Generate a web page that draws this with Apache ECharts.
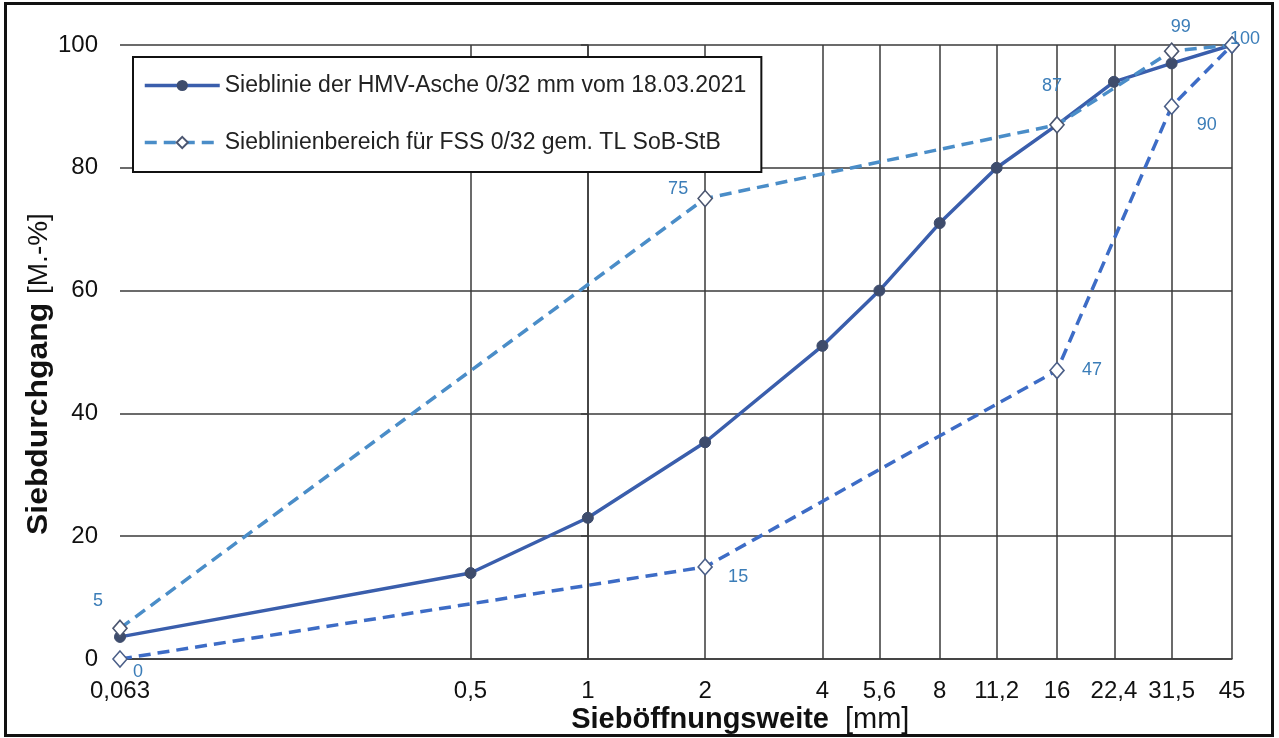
<!DOCTYPE html>
<html>
<head>
<meta charset="utf-8">
<script src="https://cdn.jsdelivr.net/npm/echarts@6/dist/echarts.min.js"></script>
<style>
html,body{margin:0;padding:0;background:#fff;}
#chart{width:1279px;height:738px;}
</style>
</head>
<body>
<div id="chart"></div>
<script>
// ---- data ----
const sieveSizes = [0.063, 0.5, 1, 2, 4, 5.6, 8, 11.2, 16, 22.4, 31.5, 45];
const sieveLabels = ['0,063', '0,5', '1', '2', '4', '5,6', '8', '11,2', '16', '22,4', '31,5', '45'];
const passingHMV = [3.6, 14, 23, 35.3, 51, 60, 71, 80, 87, 94, 97, 100];
const boundSizes = [0.063, 2, 16, 31.5, 45];
const upperBound = [5, 75, 87, 99, 100];
const lowerBound = [0, 15, 47, 90, 100];
const yTicks = [0, 20, 40, 60, 80, 100];

const nameMain = 'Sieblinie der HMV-Asche 0/32 mm vom 18.03.2021';
const nameRange = 'Sieblinienbereich für FSS 0/32 gem. TL SoB-StB';

const lx = v => Math.log2(v);
const xs = sieveSizes.map(lx);

function labelFor(v) {
  for (let i = 0; i < xs.length; i++) if (Math.abs(xs[i] - v) < 1e-6) return sieveLabels[i];
  return '';
}

const upperOffsets = [[-22, -27], [-27, -9], [-5, -39], [9, -24], [13, -6]];
const lowerOffsets = [[18, 13], [33, 10], [35, 0], [35, 19], null];
const labelColor = '#3b7db8';
const font = 'Liberation Sans, Arial, sans-serif';

function boundData(vals, offsets) {
  return boundSizes.map((s, i) => {
    const o = offsets[i];
    return {
      value: [lx(s), vals[i]],
      label: o ? {show: true, position: 'inside', offset: o, color: labelColor, fontSize: 18,
        fontFamily: font, formatter: String(vals[i])} : {show: false}
    };
  });
}

const chart = echarts.init(document.getElementById('chart'), null, {renderer: 'canvas'});
const gridColor = '#3a3a3a';

const option = {
  animation: false,
  backgroundColor: '#fff',
  grid: {left: 120, right: 47, top: 45, bottom: 79, containLabel: false},
  xAxis: {
    type: 'value',
    min: lx(0.063),
    max: lx(45),
    axisLine: {show: true, onZero: false, lineStyle: {color: gridColor, width: 1.5}},
    axisTick: {show: false},
    splitLine: {show: false},
    axisLabel: {
      customValues: xs,
      formatter: v => labelFor(v),
      color: '#111', fontSize: 24, fontFamily: font, margin: 20,
      showMinLabel: true, showMaxLabel: true
    }
  },
  yAxis: {
    type: 'value',
    min: 0, max: 100, interval: 20,
    axisLine: {show: true, lineStyle: {color: gridColor, width: 1.5}},
    axisTick: {show: true, length: 7, lineStyle: {color: gridColor, width: 1.5}},
    splitLine: {show: true, lineStyle: {color: gridColor, width: 1.5}},
    axisLabel: {color: '#111', fontSize: 24, fontFamily: font, margin: 22,
      formatter: v => (yTicks.indexOf(v) >= 0 ? String(v) : '')}
  },
  legend: {
    left: 133, top: 57,
    orient: 'vertical',
    backgroundColor: '#fff',
    borderColor: '#111', borderWidth: 2,
    padding: [17, 15, 18, 10],
    itemGap: 34,
    itemWidth: 75, itemHeight: 14,
    lineStyle: {width: 3.5},
    textStyle: {fontSize: 23, fontFamily: font, color: '#222'},
    data: [nameMain, nameRange]
  },
  graphic: [
    {type: 'rect', shape: {x: 5.5, y: 3.5, width: 1267, height: 732},
      style: {fill: 'none', stroke: '#111', lineWidth: 3}, z: 100, silent: true},
    {type: 'text', x: 829, y: 720, z: 100, silent: true,
      style: {text: 'Sieböffnungsweite', align: 'right', verticalAlign: 'middle',
        fontSize: 29, fontWeight: 'bold', fontFamily: font, fill: '#111'}},
    {type: 'text', x: 845, y: 720, z: 100, silent: true,
      style: {text: '[mm]', align: 'left', verticalAlign: 'middle',
        fontSize: 29, fontFamily: font, fill: '#111'}},
    {type: 'text', x: 39, y: 535, rotation: Math.PI / 2, scaleX: 1.1, z: 100, silent: true,
      style: {text: 'Siebdurchgang', align: 'left', verticalAlign: 'middle',
        fontSize: 29, fontWeight: 'bold', fontFamily: font, fill: '#111'}},
    {type: 'text', x: 39, y: 294, rotation: Math.PI / 2, z: 100, silent: true,
      style: {text: '[M.-%]', align: 'left', verticalAlign: 'middle',
        fontSize: 28, fontFamily: font, fill: '#111'}}
  ],
  series: [
    {
      name: nameMain,
      type: 'line',
      data: sieveSizes.map((s, i) => [lx(s), passingHMV[i]]),
      symbol: 'circle', symbolSize: 11,
      lineStyle: {color: '#3a5eac', width: 3.5},
      itemStyle: {color: '#3e4c6c', borderColor: '#3e4c6c'},
      z: 3,
      markLine: {
        silent: true, z: 1, symbol: ['none', 'none'], animation: false,
        label: {show: false},
        lineStyle: {color: gridColor, width: 1.5, type: 'solid'},
        emphasis: {disabled: true},
        data: xs.slice(1).map(v => ({xAxis: v}))
      }
    },
    {
      name: nameRange,
      type: 'line',
      data: boundData(upperBound, upperOffsets),
      symbol: 'diamond', symbolSize: [14, 16],
      lineStyle: {color: '#4a8dc8', width: 3.5, type: [12, 7]},
      itemStyle: {color: '#ffffff', borderColor: '#4b5670', borderWidth: 1.6},
      z: 4
    },
    {
      name: nameRange,
      type: 'line',
      data: boundData(lowerBound, lowerOffsets),
      symbol: 'diamond', symbolSize: [14, 16],
      lineStyle: {color: '#3d6cc6', width: 3.5, type: [12, 7]},
      itemStyle: {color: '#ffffff', borderColor: '#4b5f88', borderWidth: 1.6},
      z: 4
    }
  ]
};
chart.setOption(option);
</script>
</body>
</html>
